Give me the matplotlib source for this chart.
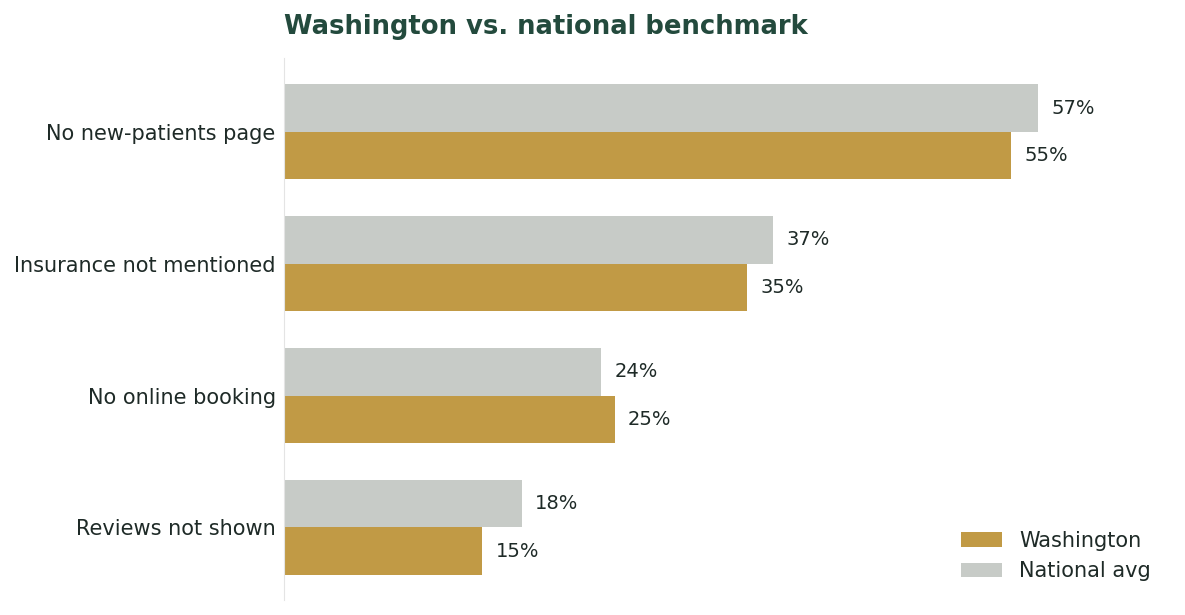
import numpy as np
import matplotlib
matplotlib.use("Agg")
import matplotlib.pyplot as plt

categories = ["No new-patients page", "Insurance not mentioned",
              "No online booking", "Reviews not shown"]
washington = [55, 35, 25, 15]
national = [57, 37, 24, 18]

gold = "#C19A45"
grey = "#C7CBC7"
text_col = "#1E2A27"

fig = plt.figure(figsize=(11.85, 6.15), dpi=100)
ax = fig.add_axes([284 / 1185, 15 / 615, 890 / 1185, 542 / 615])

y = np.arange(len(categories))
h = 0.36
b_nat = ax.barh(y - h / 2, national, height=h, color=grey, label="National avg")
b_wa = ax.barh(y + h / 2, washington, height=h, color=gold, label="Washington")

for bars, vals in ((b_nat, national), (b_wa, washington)):
    for bar, v in zip(bars, vals):
        ax.text(v + 1, bar.get_y() + bar.get_height() / 2, f"{v}%",
                va="center", ha="left", fontsize=14, color=text_col)

ax.set_ylim(3.55, -0.56)
ax.set_xlim(0, 67.3)
ax.set_yticks(y)
ax.set_yticklabels(categories, fontsize=15, color=text_col)
ax.tick_params(axis="y", length=0, pad=6)
ax.set_xticks([])
for s in ("top", "right", "bottom"):
    ax.spines[s].set_visible(False)
ax.spines["left"].set_color("#E4E4E4")

fig.text(284 / 1185, 1 - 27 / 615, "Washington vs. national benchmark",
         fontsize=18.6, fontweight="bold", color="#234A3D", ha="left", va="center")

handles = [b_wa, b_nat]
ax.legend(handles, ["Washington", "National avg"], loc="lower right",
          frameon=False, fontsize=15, labelcolor=text_col,
          handlelength=2, handleheight=0.7, bbox_to_anchor=(0.995, 0.0))

fig.savefig("out.png", dpi=100)
